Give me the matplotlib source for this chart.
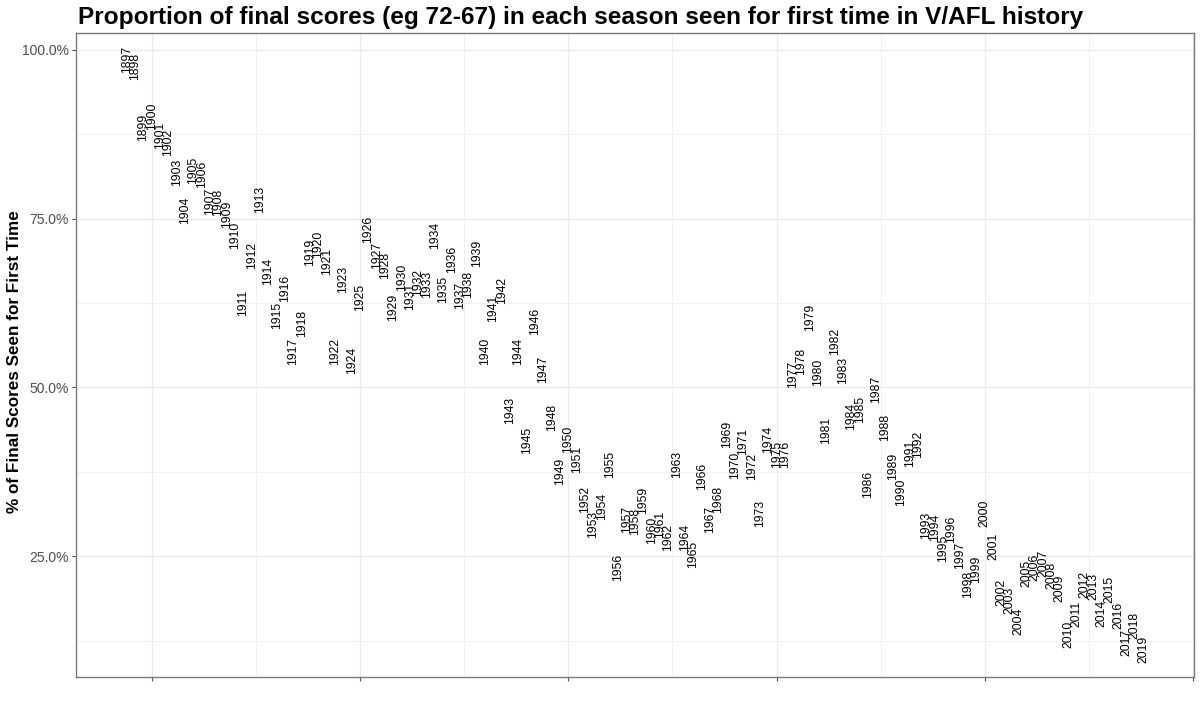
import matplotlib.pyplot as plt
import numpy as np

plt.rcParams['font.family'] = ['Liberation Sans', 'DejaVu Sans']

years = list(range(1897, 2020))
pct_first = [
    98.6, 97.6, 88.6, 90.2, 87.3, 86.3, 81.8, 76.3, 82.1, 81.6,  # 1897-1906
    77.5, 77.4, 75.7, 72.6, 62.6, 69.5, 77.8, 67.2, 60.7, 64.6,  # 1907-1916
    55.3, 59.5, 70.0, 71.2, 68.6, 55.4, 66.0, 54.0, 63.4, 73.4,  # 1917-1926
    69.6, 68.0, 61.9, 66.3, 63.5, 65.6, 65.2, 72.5, 64.5, 68.9,  # 1927-1936
    63.6, 65.3, 69.8, 55.4, 61.7, 64.4, 46.6, 55.4, 42.2, 59.8,  # 1937-1946
    52.7, 45.6, 37.5, 42.3, 39.4, 33.4, 29.7, 32.4, 38.6, 23.4,  # 1947-1956
    30.5, 30.2, 33.2, 28.8, 29.7, 27.7, 38.6, 27.8, 25.2, 36.8,  # 1957-1966
    30.5, 33.4, 43.0, 38.4, 42.0, 38.3, 31.4, 42.3, 40.1, 40.0,  # 1967-1976
    51.9, 53.8, 60.4, 52.3, 43.6, 56.8, 52.5, 45.7, 46.7, 35.7,  # 1977-1986
    49.7, 44.0, 38.3, 34.5, 40.2, 41.5, 29.5, 29.2, 26.2, 28.9,  # 1987-1996
    25.1, 20.8, 23.0, 31.4, 26.5, 19.6, 18.5, 15.3, 22.4, 23.3,  # 1997-2006
    23.9, 22.2, 20.2, 13.4, 16.4, 20.8, 20.5, 16.5, 20.1, 16.2,  # 2007-2016
    12.2, 14.8, 11.2,                                            # 2017-2019
]

y_major = [25, 50, 75, 100]
y_labels = ['25.0%', '50.0%', '75.0%', '100.0%']
x_major = [1900, 1925, 1950, 1975, 2000, 2025]

fig = plt.figure(figsize=(12, 7.04), dpi=100)
ax = fig.add_axes([0.0633, 0.0384, 0.9317, 0.9146])

for yr, v in zip(years, pct_first):
    ax.text(yr, v, str(yr), rotation=90, ha='center', va='center',
            fontsize=8.7, color='black', rotation_mode='anchor')

ax.set_xlim(1890.9, 2025.1)
ax.set_ylim(7.1, 102.5)

ax.set_xticks(x_major)
ax.set_xticklabels([])
ax.set_xticks(np.arange(1912.5, 2025, 25), minor=True)
ax.set_yticks(y_major)
ax.set_yticklabels(y_labels)
ax.set_yticks([12.5, 37.5, 62.5, 87.5], minor=True)

ax.grid(which='major', color='#EBEBEB', linewidth=1.0)
ax.grid(which='minor', color='#EBEBEB', linewidth=0.5)
ax.set_axisbelow(True)
ax.tick_params(which='major', length=3, color='#555555', labelsize=10,
               labelcolor='#4D4D4D', pad=2)
ax.tick_params(which='minor', length=0)
for s in ax.spines.values():
    s.set_color('#7A7A7A')
    s.set_linewidth(1.0)

fig.text(0.012, 0.486, '% of Final Scores Seen for First Time', fontsize=12.3,
         fontweight='bold', rotation=90, ha='center', va='center')
fig.text(0.065, 0.975, 'Proportion of final scores (eg 72-67) in each season seen for first time in V/AFL history',
         fontsize=17.6, fontweight='bold', ha='left', va='center')

fig.savefig('out.png', dpi=100)
